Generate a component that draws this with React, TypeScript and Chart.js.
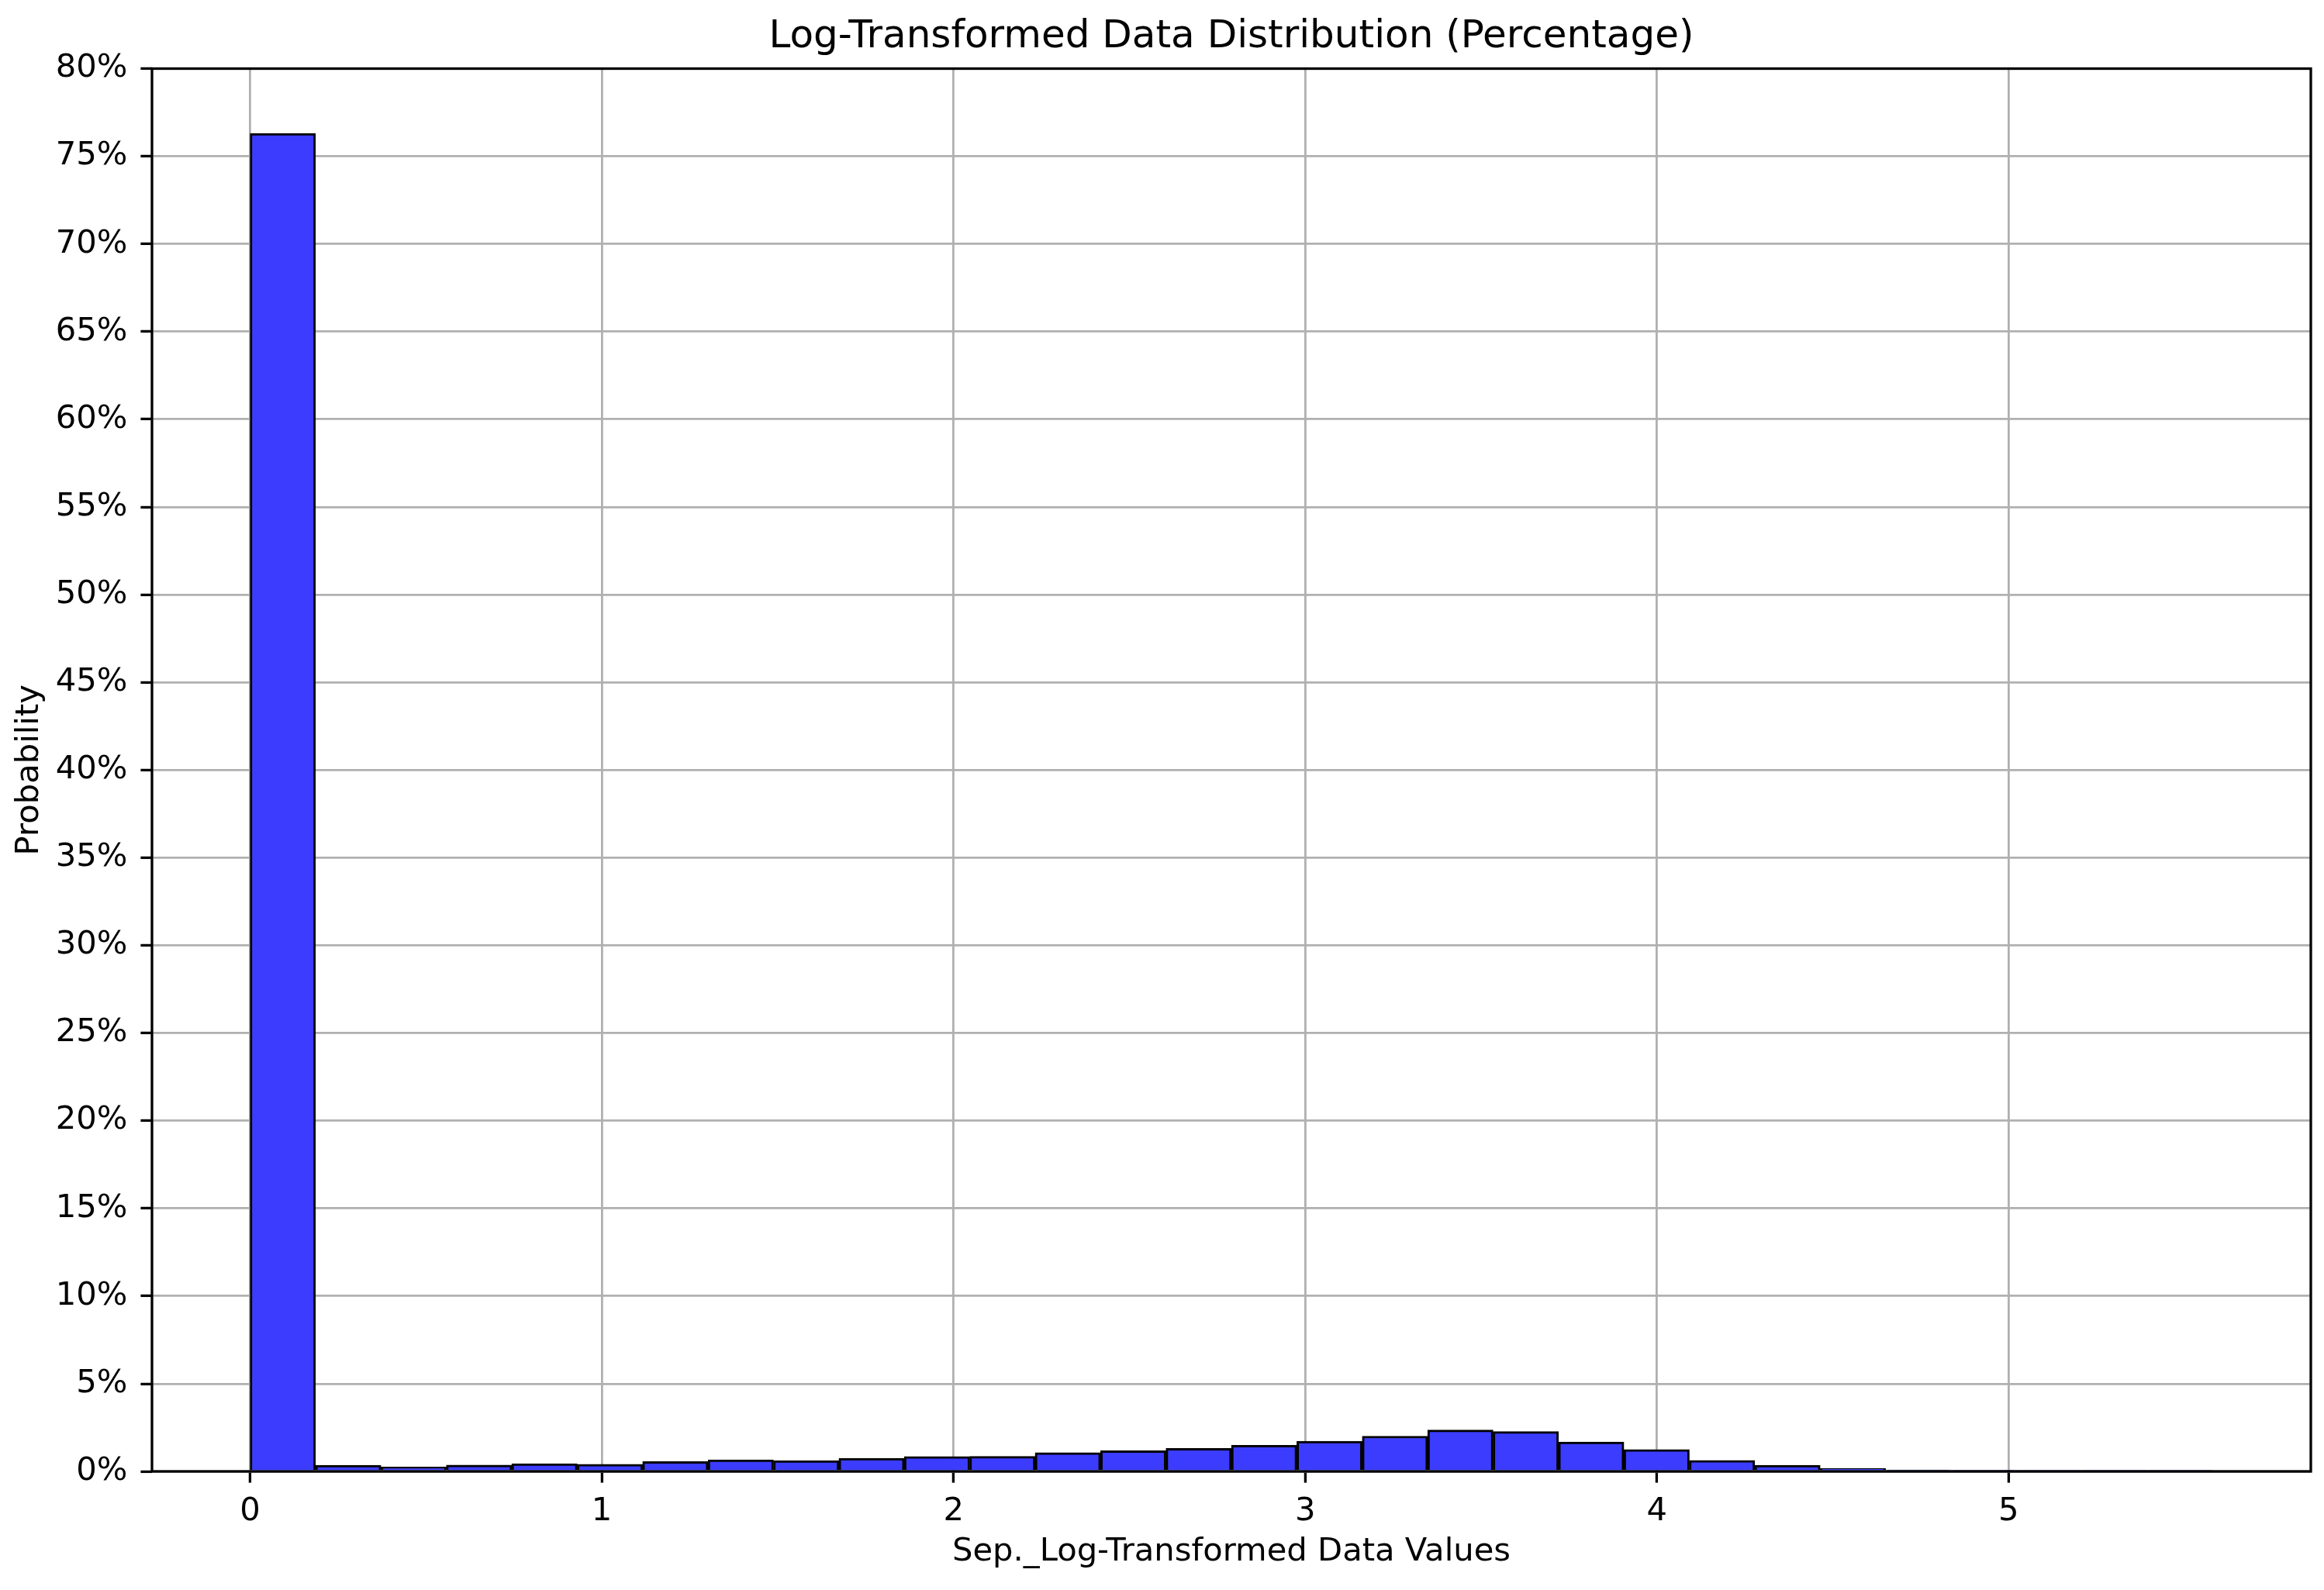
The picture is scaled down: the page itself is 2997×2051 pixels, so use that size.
import React, { useEffect, useRef } from 'react';
import { Chart, registerables } from 'chart.js';

Chart.register(...registerables);

// ---- data ----
const binEdges = [
  0, 0.186, 0.372, 0.558, 0.744, 0.93, 1.116, 1.302, 1.488, 1.674, 1.86,
  2.046, 2.232, 2.418, 2.604, 2.79, 2.976, 3.162, 3.348, 3.534, 3.72,
  3.906, 4.092, 4.278, 4.464, 4.65, 4.836, 5.022, 5.208, 5.394, 5.58,
];
const percentages = [
  76.3, 0.35, 0.25, 0.36, 0.44, 0.41, 0.56, 0.66, 0.62, 0.75,
  0.85, 0.86, 1.07, 1.18, 1.31, 1.49, 1.72, 2.01, 2.36, 2.27,
  1.68, 1.24, 0.63, 0.35, 0.17, 0.08, 0.04, 0.02, 0.01, 0.01,
];
const xTickValues = [0, 1, 2, 3, 4, 5];
const xMin = -0.279;
const xMax = 5.859;
const yMin = 0;
const yMax = 80;
const yStep = 5;
const titleText = 'Log-Transformed Data Distribution (Percentage)';
const xAxisTitle = 'Sep._Log-Transformed Data Values';
const yAxisTitle = 'Probability';

const FONT = 'DejaVu Sans';

const spinePlugin = {
  id: 'spines',
  afterDraw(chart: any) {
    const { ctx, chartArea: a } = chart;
    ctx.save();
    ctx.strokeStyle = '#000';
    ctx.lineWidth = 3.3;
    ctx.strokeRect(a.left, a.top, a.right - a.left, a.bottom - a.top);
    ctx.restore();
  },
};

export default function App() {
  const ref = useRef<HTMLCanvasElement | null>(null);

  useEffect(() => {
    if (!ref.current) return;
    const centers = percentages.map((_, i) => (binEdges[i] + binEdges[i + 1]) / 2);
    const chart = new Chart(ref.current, {
      type: 'bar',
      data: {
        datasets: [
          {
            data: centers.map((c, i) => ({ x: c, y: percentages[i] })),
            backgroundColor: '#3c3cff',
            borderColor: '#000000',
            borderWidth: 3,
            barPercentage: 1,
            categoryPercentage: 1,
          } as any,
        ],
      },
      options: {
        responsive: false,
        animation: false,
        devicePixelRatio: 1,
        layout: { padding: { left: 0, right: 17, top: 0, bottom: 0 } },
        plugins: {
          legend: { display: false },
          tooltip: { enabled: false },
          title: {
            display: true,
            text: titleText,
            fullSize: false,
            color: '#000',
            font: { family: FONT, size: 50, weight: 'normal' as any, lineHeight: 1.2 },
            padding: { top: 18, bottom: 10.5 },
          },
        },
        scales: {
          x: {
            type: 'linear',
            min: xMin,
            max: xMax,
            offset: false,
            z: 1,
            border: { display: false },
            grid: {
              offset: false,
              color: '#b0b0b0',
              lineWidth: 2.8,
              tickColor: '#000',
              tickWidth: 3.3,
              tickLength: 14.6,
            },
            afterBuildTicks: (axis: any) => {
              axis.ticks = xTickValues.map((v) => ({ value: v }));
            },
            afterFit: (s: any) => {
              s.height = 153;
            },
            ticks: {
              color: '#000',
              padding: 13,
              maxRotation: 0,
              autoSkip: false,
              font: { family: FONT, size: 41.7 },
              callback: (v: any) => String(v),
            },
            title: {
              display: true,
              text: xAxisTitle,
              color: '#000',
              font: { family: FONT, size: 41.7, lineHeight: 1.2 },
              padding: { top: 0, bottom: 24 },
            },
          },
          y: {
            type: 'linear',
            min: yMin,
            max: yMax,
            z: 1,
            border: { display: false },
            grid: {
              color: '#b0b0b0',
              lineWidth: 2.8,
              tickColor: '#000',
              tickWidth: 3.3,
              tickLength: 14.6,
            },
            afterFit: (s: any) => {
              s.width = 196;
            },
            ticks: {
              stepSize: yStep,
              color: '#000',
              padding: 17,
              autoSkip: false,
              font: { family: FONT, size: 41.7 },
              callback: (v: any) => `${v}%`,
            },
            title: {
              display: true,
              text: yAxisTitle,
              color: '#000',
              font: { family: FONT, size: 41.7, lineHeight: 1.2 },
              padding: { top: 13, bottom: 0 },
            },
          },
        },
      } as any,
      plugins: [spinePlugin],
    });
    return () => chart.destroy();
  }, []);

  return (
    <div style={{ position: 'fixed', left: 0, top: 0, width: 2997, height: 2051, background: '#fff' }}>
      <canvas ref={ref} width={2997} height={2051} style={{ display: 'block', width: 2997, height: 2051 }} />
    </div>
  );
}
